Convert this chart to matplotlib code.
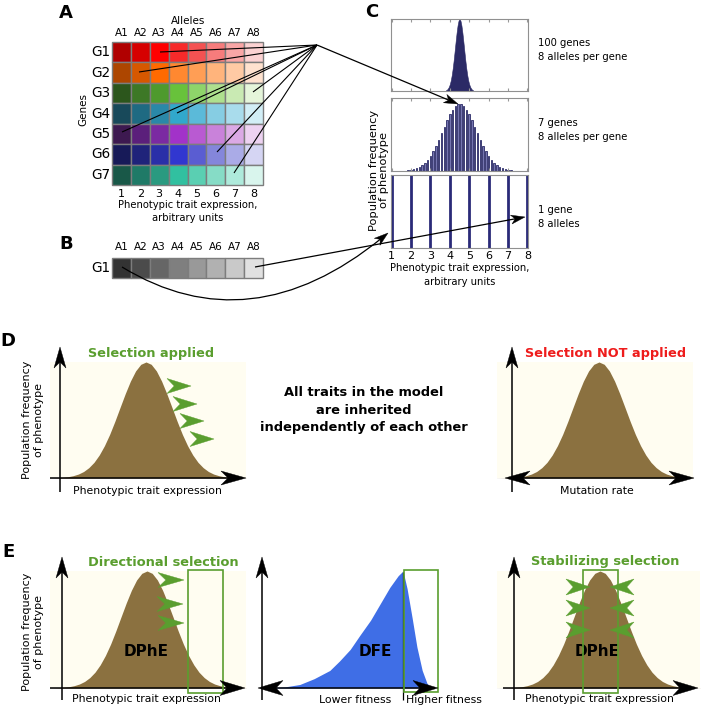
import numpy as np
import matplotlib
matplotlib.use('Agg')
import matplotlib.pyplot as plt
from matplotlib.patches import Rectangle, Polygon, PathPatch
from matplotlib.path import Path

W, H = 709, 706

# ---------------- data ----------------
alleles = ['A1', 'A2', 'A3', 'A4', 'A5', 'A6', 'A7', 'A8']
genes = ['G1', 'G2', 'G3', 'G4', 'G5', 'G6', 'G7']
expression_ticks = [1, 2, 3, 4, 5, 6, 7, 8]

g1_colors = ['#b00000', '#d60000', '#ff0000', '#f72a2a', '#f45252', '#f67c7c', '#f9a6a6', '#fcd2d2']
g2_colors = ['#ad4600', '#d65800', '#ff6a00', '#ff8830', '#ff9e55', '#ffb47c', '#ffcaa4', '#ffe2cf']
g3_colors = ['#2c561c', '#3d7826', '#4e9a2d', '#68c23b', '#8ed46a', '#aee08e', '#c9eab3', '#e5f5da']
g4_colors = ['#18495a', '#1f6a82', '#2a88a8', '#31a8cc', '#5bbad9', '#86cde3', '#a9dcec', '#d2eef6']
g5_colors = ['#3d1950', '#5b1f7b', '#7b2aa2', '#a232c9', '#b95ad2', '#c982da', '#dba9e5', '#edd2f1']
g6_colors = ['#171a58', '#1f237a', '#2a2fa8', '#3137d0', '#5a5dd2', '#8486db', '#aaabe7', '#d5d5f3']
g7_colors = ['#195848', '#1f7a67', '#2a9a80', '#31c0a0', '#5acfb2', '#86dcc6', '#aeeadb', '#d9f5ed']
gray_colors = ['#333333', '#4b4b4b', '#666666', '#7f7f7f', '#999999', '#b1b1b1', '#c9c9c9', '#e1e1e1']

# panel C: 100 genes (dense peak), 7 genes (bars), 1 gene (lines)
hundred_x = np.linspace(3.8, 5.2, 29)
hundred_freq = [0.010, 0.018, 0.033, 0.057, 0.094, 0.147, 0.220, 0.314, 0.427, 0.554,
                0.685, 0.808, 0.910, 0.977, 1.000, 0.977, 0.910, 0.808, 0.685, 0.554,
                0.427, 0.314, 0.220, 0.147, 0.094, 0.057, 0.033, 0.018, 0.010]
seven_x = np.arange(7, 57) / 7.0
seven_freq = [0.000, 0.001, 0.001, 0.002, 0.003, 0.006, 0.010, 0.016, 0.025, 0.038,
              0.057, 0.084, 0.119, 0.165, 0.223, 0.293, 0.374, 0.465, 0.563, 0.663,
              0.759, 0.846, 0.918, 0.970, 0.997, 0.997, 0.970, 0.918, 0.846, 0.759,
              0.663, 0.563, 0.465, 0.374, 0.293, 0.223, 0.165, 0.119, 0.084, 0.057,
              0.038, 0.025, 0.016, 0.010, 0.006, 0.003, 0.002, 0.001, 0.001, 0.000]
one_x = [1, 2, 3, 4, 5, 6, 7, 8]
one_freq = [1, 1, 1, 1, 1, 1, 1, 1]

# schematic distributions (D, E)
bell_z = np.linspace(-4, 4, 41)
bell_h = [0.0003, 0.0007, 0.0015, 0.003, 0.006, 0.011, 0.020, 0.034, 0.056, 0.089,
          0.135, 0.198, 0.278, 0.375, 0.487, 0.607, 0.726, 0.835, 0.923, 0.980,
          1.000, 0.980, 0.923, 0.835, 0.726, 0.607, 0.487, 0.375, 0.278, 0.198,
          0.135, 0.089, 0.056, 0.034, 0.020, 0.011, 0.006, 0.003, 0.0015, 0.0007, 0.0003]
dfe_x = [-5.9, -4.9, -4.3, -3.7, -3.05, -2.65, -2.2, -1.8, -1.35, -0.95, -0.55, -0.2, 0.0,
         0.17, 0.38, 0.58, 0.8, 1.0, 1.2]
dfe_h = [0.0, 0.01, 0.03, 0.08, 0.15, 0.23, 0.33, 0.45, 0.58, 0.72, 0.86, 0.96, 1.0,
         0.85, 0.6, 0.35, 0.15, 0.04, 0.0]

# ---------------- styles ----------------
cream = '#fffdf1'
brown = '#8b7140'
green = '#5a9e2f'
red = '#ee1c1c'
blue = '#3f6ee6'
navy = '#2b2a66'

fig = plt.figure(figsize=(W / 100, H / 100), dpi=100)


def px_axes(x0, y0, x1, y1, **kw):
    return fig.add_axes([x0 / W, 1 - y1 / H, (x1 - x0) / W, (y1 - y0) / H], **kw)


def bare(ax, fc='white'):
    ax.set_xticks([])
    ax.set_yticks([])
    for s in ax.spines.values():
        s.set_visible(False)
    ax.set_facecolor(fc)


# ---------------- panel A grid ----------------
axA = px_axes(112, 42, 263, 185)
gene_colors = [g1_colors, g2_colors, g3_colors, g4_colors, g5_colors, g6_colors, g7_colors]
for i, row in enumerate(gene_colors):
    for j, c in enumerate(row):
        axA.add_patch(Rectangle((j, i), 1, 1, facecolor=c, edgecolor='#7d7d7d',
                                linewidth=1.0, clip_on=False))
axA.set_xlim(0, 8)
axA.set_ylim(7, 0)
axA.axis('off')
for j, a in enumerate(alleles):
    axA.text(j + 0.5, -0.22, a, ha='center', va='bottom', fontsize=7.5)
for j, n in enumerate(expression_ticks):
    axA.text(j + 0.5, 7.2, str(n), ha='center', va='top', fontsize=8)
for i, g in enumerate(genes):
    axA.text(-0.08, i + 0.5, g, ha='right', va='center', fontsize=9.8)

# ---------------- panel B ----------------
axB = px_axes(112, 258, 263, 278)
for j, c in enumerate(gray_colors):
    axB.add_patch(Rectangle((j, 0), 1, 1, facecolor=c, edgecolor='#7d7d7d',
                            linewidth=1.0, clip_on=False))
axB.set_xlim(0, 8)
axB.set_ylim(1, 0)
axB.axis('off')
for j, a in enumerate(alleles):
    axB.text(j + 0.5, -0.3, a, ha='center', va='bottom', fontsize=7.5)
axB.text(-0.08, 0.5, 'G1', ha='right', va='center', fontsize=9.8)

# ---------------- panel C ----------------
axC1 = px_axes(391, 19, 528, 91)
axC1.fill_between(hundred_x, hundred_freq, color=navy, linewidth=0.4)
axC1.set_ylim(0, 1.0)
axC2 = px_axes(391, 98, 528, 171)
axC2.bar(seven_x, seven_freq, width=0.075, color='#7575b0', edgecolor='#2a2a66', linewidth=0.6)
axC2.set_ylim(0, 1.09)
axC3 = px_axes(391, 175, 528, 248)
axC3.vlines(one_x, 0, one_freq, color='#2a2a78', linewidth=2)
axC3.set_ylim(0, 1.0)
for ax in (axC1, axC2, axC3):
    ax.set_xlim(0.97, 8.03)
    ax.set_xticks(expression_ticks)
    ax.set_yticks([])
    ax.tick_params(axis='x', direction='in', length=2, top=True, color='#999999',
                   labelbottom=False, labelsize=8, pad=2)
    for s in ax.spines.values():
        s.set_color('#909090')
        s.set_linewidth(0.8)
axC3.tick_params(axis='x', labelbottom=True)

# ---------------- panel D / E schematic axes ----------------
BELL_UNIT = 26.0
DFE_UNIT = 24.0


def schem(x0, y0, x1, y1, cx, fc, unit, top=1.0):
    ax = px_axes(x0, y0, x1, y1)
    bare(ax, fc)
    ax.set_xlim((x0 - cx) / unit, (x1 - cx) / unit)
    ax.set_ylim(0, top)
    return ax


axD1 = schem(50, 362, 246, 478, 146, cream, BELL_UNIT)
axD1.fill_between(bell_z, bell_h, color=brown, linewidth=0)
axD2 = schem(497, 362, 693, 478, 599, cream, BELL_UNIT)
axD2.fill_between(bell_z, bell_h, color=brown, linewidth=0)
axE1 = schem(50, 571, 246, 688, 147, cream, BELL_UNIT)
axE1.fill_between(bell_z, bell_h, color=brown, linewidth=0)
axE2 = schem(262, 571, 440, 688, 403, 'white', DFE_UNIT)
axE2.fill_between(dfe_x, dfe_h, color=blue, linewidth=0)
axE3 = schem(497, 571, 700, 688, 600, cream, BELL_UNIT)
axE3.fill_between(bell_z, bell_h, color=brown, linewidth=0)

# ---------------- overlay (annotations) ----------------
ov = fig.add_axes([0, 0, 1, 1], zorder=10)
ov.set_xlim(0, W)
ov.set_ylim(H, 0)
ov.axis('off')
ov.patch.set_alpha(0)


def head(tip, d, L, Wd, color='black', notch=0.72):
    d = np.asarray(d, float)
    d = d / np.hypot(*d)
    n = np.array([-d[1], d[0]])
    T = np.asarray(tip, float)
    B = T - L * d
    pts = [T, B + n * Wd / 2, T - notch * L * d, B - n * Wd / 2]
    ov.add_patch(Polygon(pts, closed=True, facecolor=color, edgecolor=color,
                         linewidth=0.3, zorder=12))


def line(p, q, lw=1.1, color='black', z=11):
    ov.plot([p[0], q[0]], [p[1], q[1]], color=color, lw=lw, solid_capstyle='butt', zorder=z)


def arrow(p, q, L, Wd, lw=1.1):
    p = np.asarray(p, float)
    q = np.asarray(q, float)
    d = (q - p) / np.hypot(*(q - p))
    line(p, q - d * L * 0.6, lw=lw)
    head(q, d, L, Wd)


def tx(x, y, s, **kw):
    kw.setdefault('ha', 'center')
    kw.setdefault('va', 'center')
    ov.text(x, y, s, **kw)


# panel letters
for (x, y, s) in [(66, 13, 'A'), (66, 244, 'B'), (372, 12, 'C'), (8, 341, 'D'), (9, 552, 'E')]:
    tx(x, y, s, fontsize=13, fontweight='bold')

# A labels
tx(188, 21, 'Alleles', fontsize=7.5)
tx(83, 110, 'Genes', fontsize=7.5, rotation=90)
tx(188, 205, 'Phenotypic trait expression,', fontsize=7.2)
tx(188, 218, 'arbitrary units', fontsize=7.2)

# lines from cells to hub
hub = (317, 45)
for end in [(160, 52), (139, 72), (253, 92), (177, 113), (122, 132), (217, 152), (234, 173)]:
    line(hub, end, lw=0.8)
arrow(hub, (458, 104), 14, 9, lw=0.9)

# B arrows
arrow((255, 267), (525, 217), 14, 9, lw=0.9)
S, Cp, E = (122, 267), (250, 345), (388, 233)
dE = np.array(E) - np.array(Cp)
dE = dE / np.hypot(*dE)
Eline = np.array(E) - dE * 8
ov.add_patch(PathPatch(Path([S, Cp, tuple(Eline)], [Path.MOVETO, Path.CURVE3, Path.CURVE3]),
                       facecolor='none', edgecolor='black', lw=0.9, zorder=11))
head(E, dE, 14, 9)

# C labels
tx(379, 170, 'Population frequency\nof phenotype', fontsize=8.2, rotation=90, linespacing=1.05)
tx(460, 268, 'Phenotypic trait expression,', fontsize=7.2)
tx(460, 282, 'arbitrary units', fontsize=7.2)
tx(538, 50, '100 genes\n8 alleles per gene', fontsize=7.2, ha='left', linespacing=1.5)
tx(538, 130, '7 genes\n8 alleles per gene', fontsize=7.2, ha='left', linespacing=1.5)
tx(538, 217, '1 gene\n8 alleles', fontsize=7.2, ha='left', linespacing=1.5)

# ---- panel D ----
# left
line((60, 492), (60, 355))
head((60, 347), (0, -1), 21, 12)
line((50, 478), (235, 478))
head((246, 478), (1, 0), 25, 14)
for (cx, cy) in [(179, 386), (185, 404), (192, 421), (202, 439)]:
    head((cx + 12, cy), (1, 0), 24, 15, color=green, notch=0.7)
tx(151, 353, 'Selection applied', fontsize=9.3, fontweight='bold', color=green)
tx(147, 491, 'Phenotypic trait expression', fontsize=7.8)
tx(33, 420, 'Population frequency\nof phenotype', fontsize=8, rotation=90, linespacing=1.35)
# middle text
tx(364, 393, 'All traits in the model', fontsize=9.4, fontweight='bold')
tx(364, 410, 'are inherited', fontsize=9.4, fontweight='bold')
tx(364, 428, 'independently of each other', fontsize=9.4, fontweight='bold')
# right
line((512, 492), (512, 355))
head((512, 347), (0, -1), 21, 12)
line((515, 478), (683, 478))
head((505, 478), (-1, 0), 25, 14)
head((694, 478), (1, 0), 25, 14)
tx(606, 353, 'Selection NOT applied', fontsize=9.3, fontweight='bold', color=red)
tx(597, 491, 'Mutation rate', fontsize=7.8)

# ---- panel E ----
# left
line((62, 700), (62, 565))
head((62, 557), (0, -1), 21, 12)
line((50, 688), (234, 688))
head((245, 688), (1, 0), 25, 15)
ov.add_patch(Rectangle((188, 570), 35, 123, facecolor='none', edgecolor=green, lw=1.2, zorder=11))
for (cx, cy) in [(171, 580), (170, 604), (171, 623)]:
    head((cx + 13, cy), (1, 0), 26, 15, color=green, notch=0.7)
tx(163, 562, 'Directional selection', fontsize=9.4, fontweight='bold', color=green)
tx(146, 652, 'DPhE', fontsize=11, fontweight='bold')
tx(146, 699, 'Phenotypic trait expression', fontsize=7.8)
tx(33, 632, 'Population frequency\nof phenotype', fontsize=8, rotation=90, linespacing=1.35)
# middle
line((262, 700), (262, 565))
head((262, 557), (0, -1), 21, 12)
line((268, 688), (428, 688))
head((258, 688), (-1, 0), 25, 15)
head((438, 688), (1, 0), 25, 15)
line((403, 572), (403, 700), lw=0.9)
ov.add_patch(Rectangle((404, 570), 34, 122, facecolor='none', edgecolor=green, lw=1.2, zorder=11))
tx(375, 652, 'DFE', fontsize=11, fontweight='bold')
tx(355, 700, 'Lower fitness', fontsize=7.8)
tx(444, 700, 'Higher fitness', fontsize=7.8)
# right
line((514, 700), (514, 565))
head((514, 557), (0, -1), 21, 12)
line((503, 688), (687, 688))
head((698, 688), (1, 0), 25, 15)
ov.add_patch(Rectangle((583, 570), 35, 123, facecolor='none', edgecolor=green, lw=1.2, zorder=11))
for cy in [587, 608, 630]:
    head((590, cy), (1, 0), 24, 16, color=green, notch=0.7)
    head((610, cy), (-1, 0), 24, 16, color=green, notch=0.7)
tx(605, 562, 'Stabilizing selection', fontsize=9.4, fontweight='bold', color=green)
tx(597, 652, 'DPhE', fontsize=11, fontweight='bold')
tx(599, 699, 'Phenotypic trait expression', fontsize=7.8)

fig.savefig('out.png', dpi=100)
